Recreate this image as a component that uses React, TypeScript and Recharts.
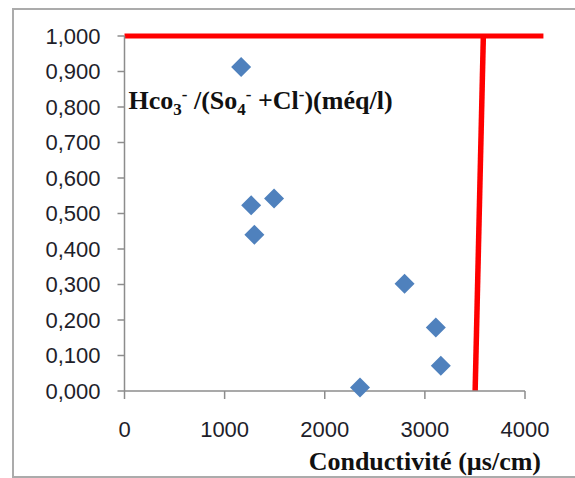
import React from "react";
import { ScatterChart, Scatter, XAxis, YAxis, ReferenceLine } from "recharts";

// conductivity (µs/cm) and HCO3-/(SO4- + Cl-) ratio (méq/l) per sample
const conductivity = [1165, 1265, 1297, 1494, 2352, 2797, 3109, 3159];
const ratio = [0.913, 0.523, 0.44, 0.542, 0.01, 0.302, 0.179, 0.071];

const xTicks = [0, 1000, 2000, 3000, 4000];
const yTicks = [0, 0.1, 0.2, 0.3, 0.4, 0.5, 0.6, 0.7, 0.8, 0.9, 1.0];

// red limit lines: horizontal at ratio = 1, near-vertical at ~3500 µs/cm
const limitTop = [{ x: 0, y: 1 }, { x: 4184, y: 1 }];
const limitSide = [{ x: 3502, y: 0 }, { x: 3584, y: 1 }];

const points = conductivity.map((c, i) => ({ x: c, y: ratio[i] }));

const tickFont = { fontFamily: "'Liberation Sans', Arial, sans-serif", fontSize: 22, fill: "#1e1e2a" };
const titleFont = "'Liberation Serif', 'Times New Roman', serif";

const Diamond = (p: any) => {
  const { cx, cy } = p;
  const r = 10;
  return (
    <polygon
      points={`${cx},${cy - r} ${cx + r},${cy} ${cx},${cy + r} ${cx - r},${cy}`}
      fill="#4f81bd"
    />
  );
};

const YTitle = (props: any) => {
  const vb = props.viewBox || {};
  const x = vb.x + vb.width + 4;
  const y = vb.y + 73;
  return (
    <text x={x} y={y} fontFamily={titleFont} fontWeight="bold" fontSize={26} fill="#111">
      Hco
      <tspan fontSize={17} dy={6}>3</tspan>
      <tspan fontSize={17} dy={-15}>-</tspan>
      <tspan dy={9}>{" /(So"}</tspan>
      <tspan fontSize={17} dy={6}>4</tspan>
      <tspan fontSize={17} dy={-15}>-</tspan>
      <tspan dy={9}>{" +Cl"}</tspan>
      <tspan fontSize={17} dy={-9}>-</tspan>
      <tspan dy={9}>{")(méq/l)"}</tspan>
    </text>
  );
};

const XTitle = (props: any) => {
  const vb = props.viewBox || {};
  return (
    <text
      x={vb.x + vb.width + 16}
      y={vb.y + 79}
      textAnchor="end"
      fontFamily={titleFont}
      fontWeight="bold"
      fontSize={26}
      fill="#111"
    >
      Conductivité (µs/cm)
    </text>
  );
};

export default function App() {
  return (
    <div style={{ position: "absolute", left: 0, top: 0, width: 575, height: 478, overflow: "hidden", background: "#fff" }}>
      <div
        style={{
          position: "absolute",
          left: 12,
          top: 8,
          width: 600,
          height: 470,
          border: "2px solid #ababab",
          boxSizing: "border-box",
        }}
      />
      <div style={{ position: "absolute", left: 0, top: 0 }}>
        <ScatterChart width={575} height={478} margin={{ top: 36, right: 50, bottom: 0, left: 0 }}>
          <XAxis
            type="number"
            dataKey="x"
            domain={[0, 4000]}
            ticks={xTicks}
            height={87}
            tickSize={8}
            tickMargin={22}
            stroke="#8c8c8c"
            strokeWidth={1.5}
            tick={tickFont}
            label={{ content: (p: any) => <XTitle {...p} /> }}
          />
          <YAxis
            type="number"
            dataKey="y"
            domain={[0, 1]}
            ticks={yTicks}
            width={124.5}
            tickSize={7}
            tickMargin={17}
            stroke="#8c8c8c"
            strokeWidth={1.5}
            tick={tickFont}
            tickFormatter={(v: number) => v.toFixed(3).replace(".", ",")}
            label={{ content: (p: any) => <YTitle {...p} /> }}
          />
          <ReferenceLine segment={limitTop} stroke="#ff0000" strokeWidth={5} ifOverflow="visible" />
          <ReferenceLine segment={limitSide} stroke="#ff0000" strokeWidth={5.5} ifOverflow="visible" />
          <Scatter data={points} shape={Diamond} isAnimationActive={false} />
        </ScatterChart>
      </div>
    </div>
  );
}
